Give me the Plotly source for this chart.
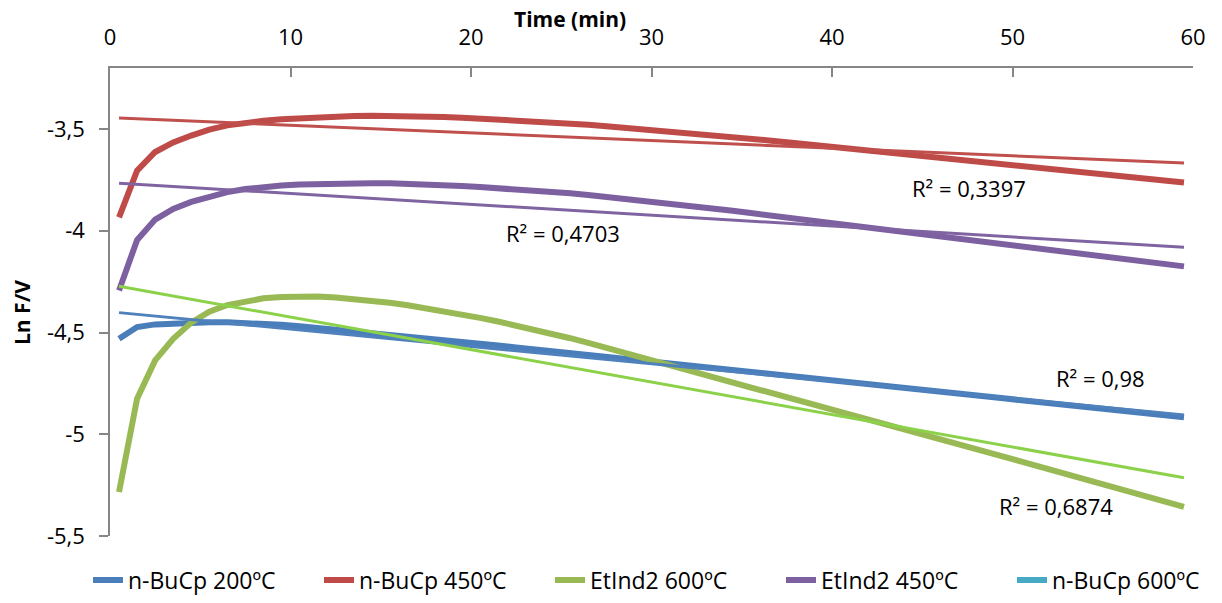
import plotly.graph_objects as go

# Sampling times (min)
time_min = [0.5 + k for k in range(60)]

# Ln F/V per run
bucp_200 = [
    -4.531, -4.473, -4.460, -4.454, -4.450, -4.449, -4.450, -4.452, -4.456, -4.462,
    -4.469, -4.477, -4.485, -4.493, -4.501, -4.510, -4.519, -4.528, -4.537, -4.546,
    -4.555, -4.564, -4.573, -4.582, -4.591, -4.600, -4.609, -4.619, -4.628, -4.637,
    -4.647, -4.656, -4.665, -4.674, -4.684, -4.693, -4.702, -4.712, -4.721, -4.730,
    -4.740, -4.749, -4.758, -4.767, -4.777, -4.786, -4.795, -4.805, -4.814, -4.823,
    -4.833, -4.842, -4.851, -4.860, -4.870, -4.879, -4.888, -4.898, -4.907, -4.916,
]
bucp_450 = [
    -3.934, -3.705, -3.613, -3.566, -3.532, -3.503, -3.482, -3.468, -3.459, -3.452,
    -3.447, -3.443, -3.439, -3.436, -3.435, -3.435, -3.436, -3.438, -3.441, -3.444,
    -3.448, -3.452, -3.457, -3.462, -3.467, -3.473, -3.479, -3.486, -3.493, -3.500,
    -3.507, -3.515, -3.523, -3.531, -3.539, -3.547, -3.556, -3.565, -3.574, -3.583,
    -3.592, -3.601, -3.610, -3.619, -3.628, -3.637, -3.646, -3.655, -3.664, -3.673,
    -3.682, -3.691, -3.700, -3.709, -3.718, -3.727, -3.736, -3.745, -3.754, -3.763,
]
etind2_600 = [
    -5.284, -4.825, -4.637, -4.531, -4.451, -4.398, -4.365, -4.345, -4.332, -4.325,
    -4.322, -4.323, -4.328, -4.335, -4.344, -4.354, -4.366, -4.380, -4.395, -4.411,
    -4.428, -4.446, -4.465, -4.485, -4.506, -4.528, -4.551, -4.575, -4.599, -4.623,
    -4.647, -4.671, -4.695, -4.719, -4.743, -4.767, -4.791, -4.815, -4.839, -4.863,
    -4.888, -4.912, -4.937, -4.962, -4.986, -5.011, -5.036, -5.061, -5.085, -5.110,
    -5.135, -5.159, -5.184, -5.209, -5.233, -5.258, -5.283, -5.308, -5.332, -5.357,
]
etind2_450 = [
    -4.294, -4.045, -3.945, -3.893, -3.858, -3.832, -3.810, -3.795, -3.785, -3.778,
    -3.773, -3.770, -3.768, -3.767, -3.766, -3.767, -3.769, -3.772, -3.776, -3.780,
    -3.785, -3.790, -3.796, -3.802, -3.809, -3.816, -3.824, -3.833, -3.842, -3.851,
    -3.861, -3.871, -3.881, -3.891, -3.902, -3.913, -3.924, -3.935, -3.946, -3.958,
    -3.969, -3.980, -3.991, -4.002, -4.013, -4.024, -4.035, -4.046, -4.056, -4.067,
    -4.078, -4.088, -4.099, -4.110, -4.121, -4.132, -4.143, -4.153, -4.164, -4.175,
]
bucp_600 = []

series_names = ["n-BuCp 200ºC", "n-BuCp 450ºC", "EtInd2 600ºC", "EtInd2 450ºC", "n-BuCp 600ºC"]
series_values = [bucp_200, bucp_450, etind2_600, etind2_450, bucp_600]
series_colors = ["#4A7EBB", "#BE4B48", "#98B954", "#7D60A0", "#46AAC5"]

# Linear trendlines (y = slope * t + intercept) and their R²
trend_slope = [-0.00852, -0.003746, -0.01595, -0.005339]
trend_intercept = [-4.3980, -3.4441, -4.2650, -3.7633]
trend_r2 = ["0,98", "0,3397", "0,6874", "0,4703"]
trend_colors = ["#4F81BD", "#C0504D", "#8CD14A", "#8064A2"]
r2_label_x = [54.85, 47.6, 52.4, 25.1]
r2_label_y = [-4.723, -3.788, -5.354, -4.011]

y_tickvals = [-5.5, -5.0, -4.5, -4.0, -3.5]
y_ticktext = ["-5,5", "-5", "-4,5", "-4", "-3,5"]
x_tickvals = [0, 10, 20, 30, 40, 50, 60]

FONT = "Open Sans"
AXIS_GREY = "#868686"
W, H = 1222, 603
L, R, T, B = 110, 29, 68, 67

fig = go.Figure()

for name, vals, col in zip(series_names, series_values, series_colors):
    fig.add_trace(go.Scatter(
        x=time_min[:len(vals)] if vals else [None], y=vals if vals else [None],
        mode="lines", name=name,
        line=dict(color=col, width=6),
    ))

t_ends = [time_min[0], time_min[-1]]
for m, b, col in zip(trend_slope, trend_intercept, trend_colors):
    fig.add_trace(go.Scatter(
        x=t_ends, y=[m * t + b for t in t_ends],
        mode="lines", showlegend=False, hoverinfo="skip",
        line=dict(color=col, width=3),
    ))

for txt, lx, ly in zip(trend_r2, r2_label_x, r2_label_y):
    fig.add_annotation(x=lx, y=ly, text="R² = " + txt, showarrow=False,
                       font=dict(family=FONT, size=22, color="#000000"),
                       xanchor="center", yanchor="middle")

plot_w, plot_h = W - L - R, H - T - B
fig.add_annotation(xref="paper", yref="paper", x=(570 - L) / plot_w, y=1 + (T - 19) / plot_h,
                   text="<b>Time (min)</b>", showarrow=False,
                   font=dict(family=FONT, size=21, color="#000000"),
                   xanchor="center", yanchor="middle")
fig.add_annotation(xref="paper", yref="paper", x=-(L - 22) / plot_w, y=(H - B - 313) / plot_h,
                   text="<b>Ln F/V</b>", showarrow=False, textangle=-90,
                   font=dict(family=FONT, size=21, color="#000000"),
                   xanchor="center", yanchor="middle")

fig.update_layout(
    width=W, height=H,
    margin=dict(l=L, r=R, t=T, b=B, autoexpand=False),
    paper_bgcolor="white", plot_bgcolor="white",
    font=dict(family=FONT, size=22, color="#000000"),
    showlegend=True,
    legend=dict(orientation="h",
                x=(88 - L) / plot_w, xanchor="left",
                y=-(580 - (H - B)) / plot_h, yanchor="middle",
                bgcolor="rgba(0,0,0,0)",
                font=dict(family=FONT, size=23, color="#000000"),
                entrywidth=186, entrywidthmode="pixels", traceorder="normal"),
    xaxis=dict(side="top", range=[0, 60], tickvals=x_tickvals, ticks="inside",
               ticklen=9, tickcolor=AXIS_GREY, tickwidth=1.5,
               showline=True, linecolor=AXIS_GREY, linewidth=1.5,
               showgrid=False, zeroline=False, ticklabelstandoff=12,
               tickfont=dict(family=FONT, size=22, color="#000000")),
    yaxis=dict(range=[-5.5, -3.2], tickvals=y_tickvals, ticktext=y_ticktext,
               ticks="outside", ticklen=9, tickcolor=AXIS_GREY, tickwidth=1.5,
               showline=True, linecolor=AXIS_GREY, linewidth=1.5,
               showgrid=False, zeroline=False, ticklabelstandoff=10,
               tickfont=dict(family=FONT, size=22, color="#000000")),
)

fig.write_html("out.html")
